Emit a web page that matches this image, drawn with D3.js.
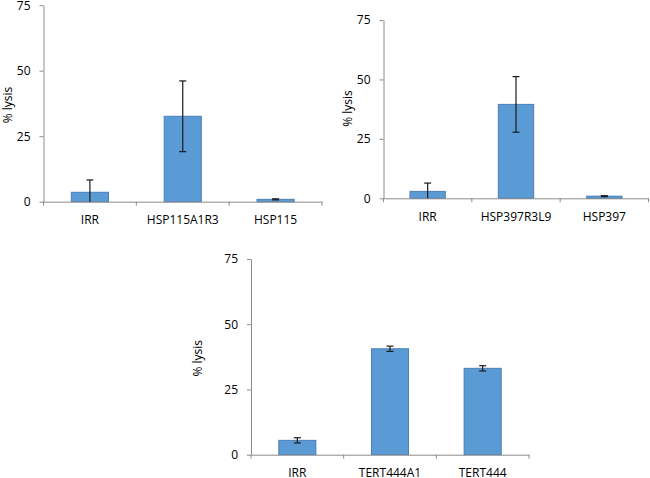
<!DOCTYPE html>
<html>
<head>
<meta charset="utf-8">
<script src="https://cdn.jsdelivr.net/npm/d3@7"></script>
<style>
  body { margin: 0; background: #fff; }
  svg { display: block; }
  .axis text { font-family: "Open Sans", sans-serif; font-size: 12px; fill: #000; }
  .axis path, .axis line { stroke: #8c8c8c; }
</style>
</head>
<body>
<div id="chart"></div>
<script>
// values (% lysis, mean and error)
var cats1 = ["IRR", "HSP115A1R3", "HSP115"];
var vals1 = [3.6, 32.6, 0.9];
var errs1 = [4.7, 13.5, 0.2];

var cats2 = ["IRR", "HSP397R3L9", "HSP397"];
var vals2 = [2.9, 39.5, 0.9];
var errs2 = [3.5, 11.7, 0.2];

var cats3 = ["IRR", "TERT444A1", "TERT444"];
var vals3 = [5.5, 40.6, 33.1];
var errs3 = [1.0, 1.0, 1.0];

var yTicks = [0, 25, 50, 75];
var yLabel = "% lysis";

var svg = d3.select("#chart").append("svg")
  .attr("width", 650)
  .attr("height", 478);

// panel placement (left, right, top of 75, baseline of 0, y-title position)
var panels = [
  { cats: cats1, vals: vals1, errs: errs1, left: 43.5, right: 322, top: 5.2, bottom: 201.7, titleX: 7.5, titleY: 105 },
  { cats: cats2, vals: vals2, errs: errs2, left: 383.5, right: 648.5, top: 20, bottom: 198.3, titleX: 348, titleY: 108.5 },
  { cats: cats3, vals: vals3, errs: errs3, left: 251, right: 529, top: 259, bottom: 454.7, titleX: 198, titleY: 358.3 }
];

panels.forEach(function (p) {
  drawPanel(p);
});

function drawPanel(p) {
  var g = svg.append("g");

  var x = d3.scaleBand()
    .domain(p.cats)
    .range([p.left, p.right])
    .paddingInner(0.6)
    .paddingOuter(0.3);

  var band = d3.scaleBand()
    .domain(p.cats)
    .range([p.left, p.right]);

  var y = d3.scaleLinear()
    .domain([0, 75])
    .range([p.bottom, p.top]);

  var mid = function (i) { return band(p.cats[i]) + band.bandwidth() / 2; };

  // y axis
  g.append("g")
    .attr("class", "axis")
    .attr("transform", "translate(" + p.left + ",0)")
    .call(d3.axisLeft(y).tickValues(yTicks).tickSize(4).tickSizeOuter(0).tickPadding(9))
    .call(function (a) { a.selectAll("text").attr("x", -13); });

  // bars
  g.selectAll("rect.bar")
    .data(p.vals)
    .enter()
    .append("rect")
    .attr("class", "bar")
    .attr("x", function (d, i) { return x(p.cats[i]); })
    .attr("width", x.bandwidth())
    .attr("y", function (d) { return y(d); })
    .attr("height", function (d) { return y(0) - y(d); })
    .attr("fill", "#5b9bd5")
    .attr("stroke", "#4a7fb5")
    .attr("stroke-width", 1);

  // x axis with labels centred on the bars
  g.append("g")
    .attr("class", "axis")
    .attr("transform", "translate(0," + y(0) + ")")
    .call(d3.axisBottom(band).tickSize(0).tickSizeOuter(0).tickPadding(14));

  // category boundary ticks
  var edges = p.cats.map(function (c) { return band(c); }).concat([p.right]);
  g.selectAll("line.edge")
    .data(edges)
    .enter()
    .append("line")
    .attr("x1", function (d) { return d; })
    .attr("x2", function (d) { return d; })
    .attr("y1", y(0))
    .attr("y2", y(0) + 4)
    .attr("stroke", "#8c8c8c");

  // error bars (clipped at the axis, no lower cap there)
  p.vals.forEach(function (v, i) {
    var e = p.errs[i];
    var lo = Math.max(0, v - e);
    var hi = v + e;
    var eg = g.append("g").attr("stroke", "#1a1a1a").attr("stroke-width", 1.2);
    eg.append("line")
      .attr("x1", mid(i)).attr("x2", mid(i))
      .attr("y1", y(lo)).attr("y2", y(hi));
    eg.append("line")
      .attr("x1", mid(i) - 3.5).attr("x2", mid(i) + 3.5)
      .attr("y1", y(hi)).attr("y2", y(hi));
    if (v - e >= 0) {
      eg.append("line")
        .attr("x1", mid(i) - 3.5).attr("x2", mid(i) + 3.5)
        .attr("y1", y(lo)).attr("y2", y(lo));
    }
  });

  // y title
  g.append("text")
    .attr("transform", "translate(" + p.titleX + "," + p.titleY + ") rotate(-90)")
    .attr("text-anchor", "middle")
    .attr("dy", "0.35em")
    .style("font-family", "'Open Sans', sans-serif")
    .style("font-size", "12px")
    .style("fill", "#000")
    .text(yLabel);
}
</script>
</body>
</html>
